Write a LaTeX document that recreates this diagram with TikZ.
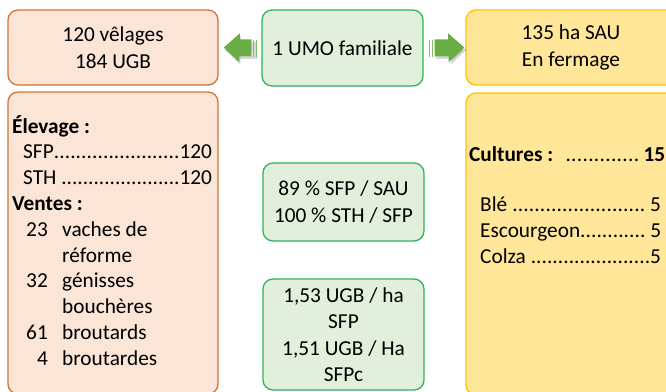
\documentclass[tikz,border=0pt]{standalone}
\usepackage{fontspec}
\setmainfont{Carlito}
\usetikzlibrary{arrows.meta,calc,positioning}

\definecolor{saumon}{HTML}{FBE5D6}
\definecolor{orangebord}{HTML}{CF7434}
\definecolor{vertclair}{HTML}{E2EFDA}
\definecolor{vertbord}{HTML}{2DB45A}
\definecolor{jaune}{HTML}{FFE699}
\definecolor{jaunebord}{HTML}{FFC000}
\definecolor{vertfleche}{HTML}{6AAD45}

\newcommand{\grostexte}{\fontsize{21.3}{26.5}\selectfont}
\newcommand{\pointilles}[3]{\hbox to #1{#2\xleaders\hbox{.}\hfill#3}}

\tikzset{
  boite/.style={rounded corners=10pt, line width=1.3pt, inner sep=0pt, font=\grostexte, align=center},
  boiteorange/.style={boite, draw=orangebord, fill=saumon},
  boiteverte/.style={boite, draw=vertbord, fill=vertclair},
  boitejaune/.style={boite, draw=jaunebord, fill=jaune},
  ligne/.style={anchor=base west, inner sep=0pt, font=\grostexte},
  fleche/.style={line width=17pt, vertfleche, -{Triangle[length=16pt,width=28pt]}},
  ombre/.style={line width=17pt, black, opacity=0.15, -{Triangle[length=16pt,width=28pt]}},
  bande/.style={line width=1.4pt, vertfleche!80}
}

\begin{document}
\begin{tikzpicture}[x=1pt,y=-1pt]
\useasboundingbox (0,0) rectangle (666,391);
\clip (0,0) rectangle (666,391);

% troupeau
\node[boiteorange, minimum width=210pt, minimum height=75pt] (velages) at (113,47.5) {120 vêlages\\184 UGB};
\node[boiteorange, minimum width=210pt, minimum height=302pt] (elevage) at (113,243) {};

% main d'oeuvre et chargement
\node[boiteverte, minimum width=161pt, minimum height=76pt] (umo) at (342.5,48) {1 UMO familiale};
\node[boiteverte, minimum width=161pt, minimum height=78pt] (sfp) at (343.5,202) {89 \% SFP / SAU\\100 \% STH / SFP};
\node[boiteverte, minimum width=161pt, minimum height=111pt] (ugb) at (343.5,334.5) {1,53 UGB / ha\\SFP\\1,51 UGB / Ha\\SFPc};

% surfaces
\node[boitejaune, minimum width=210pt, minimum height=75pt] (sau) at (571,47.5) {135 ha SAU\\En fermage};
\node[boitejaune, minimum width=210pt, minimum height=302pt] (cultures) at (571,244) {};

% fleches
\draw[ombre] ($(umo.west)+(-4,2.5)$) -- ($(velages.east)+(6,2.5)$);
\draw[fleche] ($(umo.west)+(-10,0)$) -- ($(velages.east)+(5,0)$);
\draw[bande] ($(umo.west)+(-8,-8.5)$) -- ++(0,17);
\draw[bande] ($(umo.west)+(-5,-8.5)$) -- ++(0,17);
\draw[ombre] ($(umo.east)+(12,2.5)$) -- ($(sau.west)+(1,2.5)$);
\draw[fleche] ($(umo.east)+(11,0)$) -- ($(sau.west)+(-1,0)$);
\draw[bande] ($(umo.east)+(6,-8.5)$) -- ++(0,17);
\draw[bande] ($(umo.east)+(9,-8.5)$) -- ++(0,17);

% elevage
\node[ligne] (titreelevage) at (12,133) {\textbf{Élevage :}};
\node[ligne] (lsfp) at (23,158.8) {\pointilles{189pt}{SFP}{120}};
\node[ligne] (lsth) at (23,184.6) {\pointilles{189pt}{STH }{120}};
\node[ligne] (titreventes) at (12,210.4) {\textbf{Ventes :}};
\foreach \y/\nb/\txt in {236.2/23/vaches de, 287.8/32/génisses, 339.4/61/broutards, 365.2/4/broutardes}{
  \node[ligne, anchor=base east] (nb\nb) at (48,\y) {\nb};
  \node[ligne] (v\nb) at (62,\y) {\txt};
}
\node[ligne] (reforme) at (62,262) {réforme};
\node[ligne] (boucheres) at (62,313.6) {bouchères};

% cultures
\node[ligne] (titrecultures) at (469,161) {\pointilles{196pt}{\textbf{Cultures :}\hskip 12pt}{\hskip 4pt\textbf{15}}};
\node[ligne] (ble) at (480,211) {\pointilles{181pt}{Blé }{ 5}};
\node[ligne] (escourgeon) at (480,237) {\pointilles{181pt}{Escourgeon}{ 5}};
\node[ligne] (colza) at (480,263) {\pointilles{181pt}{Colza }{5}};
\end{tikzpicture}
\end{document}
